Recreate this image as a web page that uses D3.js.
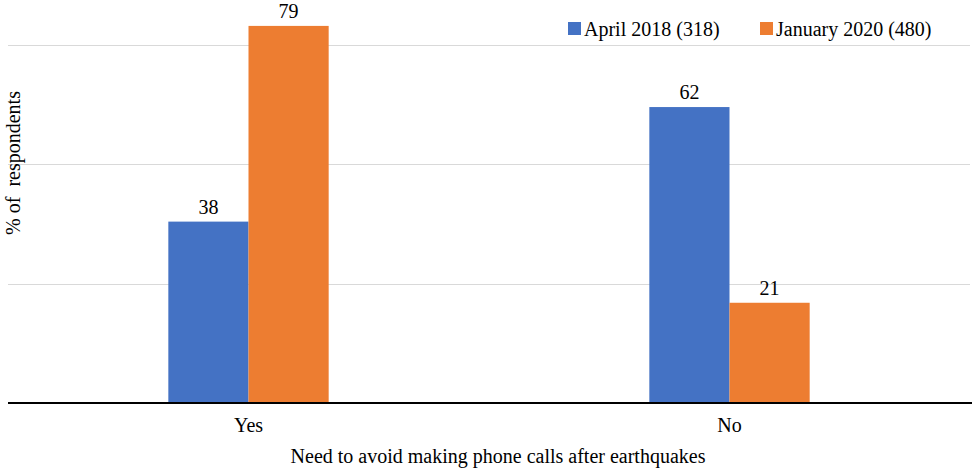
<!DOCTYPE html>
<html><head><meta charset="utf-8">
<script src="https://cdn.jsdelivr.net/npm/d3@7"></script>
<style>body{margin:0;background:#fff}svg{display:block}text{font-family:"Liberation Serif","Times New Roman",serif;fill:#000}</style>
</head><body><svg id="c" width="973" height="469"></svg>
<script>
const categories = ["Yes", "No"];
const seriesNames = ["April 2018 (318)", "January 2020 (480)"];
const april2018 = [38, 62];
const january2020 = [79, 21];
const gridTicks = [25, 50, 75];
const colors = ["#4472C4", "#ED7D31"];

(function(){
const svg = d3.select("#c");
const pLeft = 8, pRight = 970, pTop = 45, pBottom = 403;
const fs = 20;
const x = d3.scaleBand().domain(categories).range([pLeft, pRight]);
const xs = d3.scaleBand().domain([0,1]).range([0, x.bandwidth()]).paddingInner(0).paddingOuter(2);
const y = d3.scaleLinear().domain([0, 75]).range([pBottom, pTop]);

svg.append("g").selectAll("line").data(gridTicks).join("line")
  .attr("x1", pLeft).attr("x2", pRight).attr("y1", d=>Math.round(y(d))+0.5).attr("y2", d=>Math.round(y(d))+0.5)
  .attr("stroke", "#d9d9d9").attr("stroke-width", 1);

const series = [april2018, january2020];
series.forEach((vals, si) => {
  const g = svg.append("g");
  g.selectAll("rect").data(categories).join("rect")
    .attr("x", c => x(c) + xs(si)).attr("width", xs.bandwidth())
    .attr("y", (c,i) => y(vals[i])).attr("height", (c,i) => y(0) - y(vals[i]))
    .attr("fill", colors[si]);
  g.selectAll("text").data(categories).join("text")
    .attr("x", c => x(c) + xs(si) + xs.bandwidth()/2)
    .attr("y", (c,i) => y(vals[i]) - 8)
    .attr("text-anchor", "middle").attr("font-size", fs)
    .text((c,i) => vals[i]);
});

const xAxis = d3.axisBottom(x).tickSize(0).tickPadding(15);
const ax = svg.append("g").attr("transform", `translate(0,${pBottom})`).call(xAxis);
ax.select(".domain").attr("stroke", "#000").attr("stroke-width", 2).attr("d", `M${pLeft},0H${pRight+2}`);
ax.selectAll("text").attr("font-size", fs).attr("font-family", '"Liberation Serif",serif').attr("fill", "#000");

svg.append("text").attr("x", 498).attr("y", 463).attr("text-anchor", "middle")
  .attr("font-size", fs).text("Need to avoid making phone calls after earthquakes");
svg.append("text").attr("transform", "translate(20,163) rotate(-90)").attr("text-anchor", "middle")
  .attr("font-size", fs).style("white-space", "pre").text("% of  respondents");

const legX = [568, 760];
seriesNames.forEach((n, i) => {
  svg.append("rect").attr("x", legX[i]).attr("y", 22).attr("width", 13).attr("height", 13).attr("fill", colors[i]);
  svg.append("text").attr("x", legX[i] + 16).attr("y", 36).attr("font-size", fs).text(n);
});
})();
</script></body></html>
